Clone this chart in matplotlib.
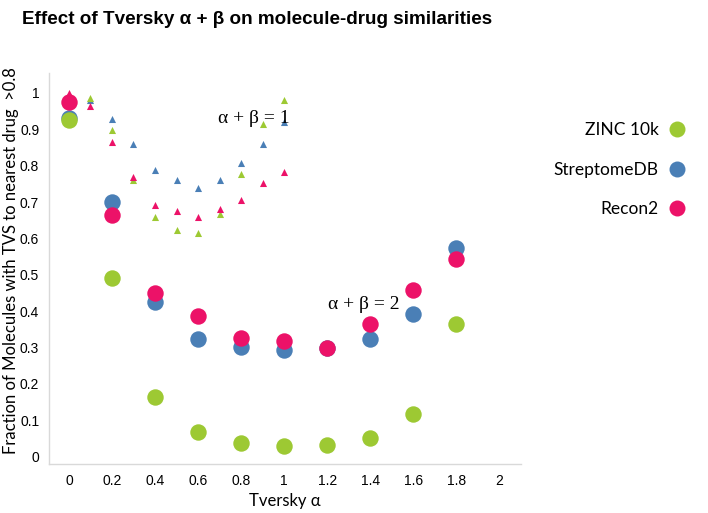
import matplotlib
matplotlib.use("Agg")
import matplotlib.pyplot as plt
from matplotlib.lines import Line2D

# alpha + beta = 2 (circles)
alpha2 = [0, 0.2, 0.4, 0.6, 0.8, 1.0, 1.2, 1.4, 1.6, 1.8]
zinc2 = [0.925, 0.49, 0.164, 0.067, 0.037, 0.030, 0.031, 0.051, 0.118, 0.366]
strep2 = [0.930, 0.700, 0.425, 0.323, 0.301, 0.294, 0.298, 0.324, 0.391, 0.575]
recon2 = [0.975, 0.665, 0.450, 0.386, 0.327, 0.318, 0.300, 0.365, 0.459, 0.544]

# alpha + beta = 1 (triangles)
alpha1 = [0, 0.1, 0.2, 0.3, 0.4, 0.5, 0.6, 0.7, 0.8, 0.9, 1.0]
zinc1 = [0.995, 0.985, 0.898, 0.761, 0.660, 0.624, 0.615, 0.668, 0.777, 0.914, 0.981]
strep1 = [0.995, 0.980, 0.928, 0.859, 0.788, 0.761, 0.738, 0.761, 0.807, 0.860, 0.921]
recon1 = [0.999, 0.965, 0.866, 0.768, 0.692, 0.676, 0.660, 0.680, 0.706, 0.752, 0.783]

x_ticks = [0, 0.2, 0.4, 0.6, 0.8, 1.0, 1.2, 1.4, 1.6, 1.8, 2.0]
x_labels = ["0", "0.2", "0.4", "0.6", "0.8", "1", "1.2", "1.4", "1.6", "1.8", "2"]
y_ticks = [0, 0.1, 0.2, 0.3, 0.4, 0.5, 0.6, 0.7, 0.8, 0.9, 1.0]
y_labels = ["0", "0.1", "0.2", "0.3", "0.4", "0.5", "0.6", "0.7", "0.8", "0.9", "1"]

series_names = ["ZINC 10k", "StreptomeDB", "Recon2"]

GREEN = "#9dc933"
BLUE = "#4a7fb6"
PINK = "#ec1268"

fig = plt.figure(figsize=(7.08, 5.13), dpi=100)
ax = fig.add_axes([0.069, 0.0955, 0.667, 0.7625])

# triangles
ax.scatter(alpha1, strep1, marker="^", s=26, color=BLUE, linewidths=0, zorder=2)
ax.scatter(alpha1, zinc1, marker="^", s=26, color=GREEN, linewidths=0, zorder=2)
ax.scatter(alpha1, recon1, marker="^", s=26, color=PINK, linewidths=0, zorder=2)

# circles
ax.scatter(alpha2, strep2, marker="o", s=140, color=BLUE, linewidths=0, zorder=3)
ax.scatter(alpha2, recon2, marker="o", s=140, color=PINK, linewidths=0, zorder=4)
ax.scatter(alpha2, zinc2, marker="o", s=140, color=GREEN, linewidths=0, zorder=5)

ax.set_xlim(-0.093, 2.1)
ax.set_ylim(-0.02, 1.055)
ax.set_xticks(x_ticks)
ax.set_xticklabels(x_labels)
ax.set_yticks(y_ticks)
ax.set_yticklabels(y_labels)
ax.tick_params(length=0, labelsize=10, pad=7)
for lab in ax.get_xticklabels() + ax.get_yticklabels():
    lab.set_family("Liberation Sans")
for s in ["top", "right"]:
    ax.spines[s].set_visible(False)
for s in ["left", "bottom"]:
    ax.spines[s].set_color("#d9d9d9")
    ax.spines[s].set_linewidth(1.0)

ax.set_xlabel("Tversky α", family="Lato", fontsize=12)
ax.xaxis.set_label_coords(0.5, -0.073)
ax.set_ylabel("Fraction of Molecules with TVS to nearest drug  >0.8", family="Lato",
              fontsize=12)
ax.yaxis.set_label_coords(-0.064, 0.52)

ax.text(0.86, 0.93, "α + β = 1", family="Liberation Serif", fontsize=14, ha="center", va="center")
ax.text(1.37, 0.418, "α + β = 2", family="Liberation Serif", fontsize=14, ha="center", va="center")

fig.text(0.363, 0.962, "Effect of Tversky α + β on molecule-drug similarities",
         family="Liberation Sans", fontweight="bold", fontsize=13.6, ha="center", va="center")

handles = [Line2D([], [], marker="o", ls="", color=c, markersize=11.5, markeredgewidth=0)
           for c in (GREEN, BLUE, PINK)]
leg = fig.legend(handles, series_names, loc="upper right", bbox_to_anchor=(0.99, 0.775),
                 markerfirst=False, frameon=False, labelspacing=1.35, handletextpad=0.05,
                 prop={"family": "Lato", "size": 12.5}, borderaxespad=0)

fig.savefig("out.png", dpi=100)
